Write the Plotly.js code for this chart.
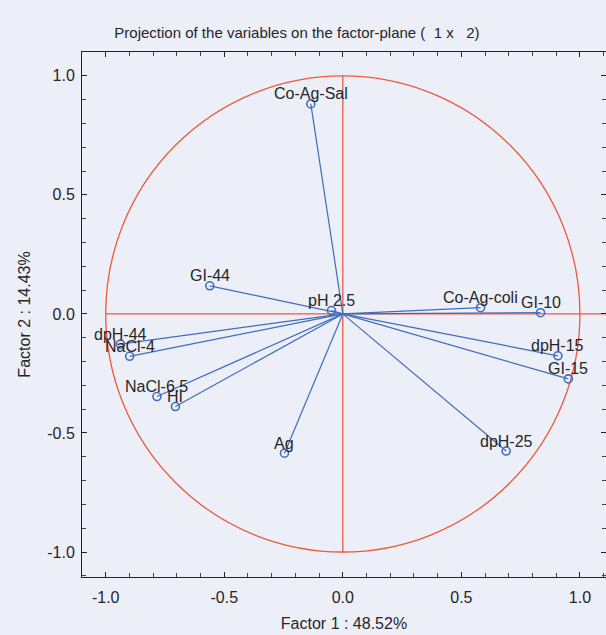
<!DOCTYPE html>
<html>
<head>
<meta charset="utf-8">
<script src="https://cdn.plot.ly/plotly-3.0.1.min.js"></script>
<style>html,body{margin:0;padding:0;background:#eceef8;}#chart{width:606px;height:635px;}</style>
</head>
<body>
<div id="chart"></div>
<script>
const variables = ["Co-Ag-Sal","GI-44","pH 2.5","dpH-44","NaCl-4","NaCl-6.5","HI","Ag","Co-Ag-coli","GI-10","dpH-15","GI-15","dpH-25"];
const factor1 = [-0.135,-0.561,-0.048,-0.938,-0.899,-0.784,-0.706,-0.246,0.581,0.834,0.907,0.951,0.689];
const factor2 = [0.882,0.118,0.014,-0.127,-0.178,-0.347,-0.389,-0.585,0.026,0.005,-0.176,-0.273,-0.576];
const tickVals = [-1.0,-0.5,0.0,0.5,1.0];
const tickLabels = ["-1.0","-0.5","0.0","0.5","1.0"];

const lx = [], ly = [];
for (let i = 0; i < variables.length; i++) {
  lx.push(0, factor1[i], null);
  ly.push(0, factor2[i], null);
}
const font = {family: "Liberation Sans, Arial, sans-serif", size: 16, color: "#262626"};
const red = "#ee5a3c";
const blue = "#3f6dbc";

const traces = [
  {x: lx, y: ly, mode: "lines", line: {color: blue, width: 1.2}, hoverinfo: "skip", showlegend: false},
  {x: factor1, y: factor2, mode: "markers",
   marker: {symbol: "circle-open", size: 8, color: blue, line: {width: 1.6, color: blue}},
   showlegend: false}
];

const annotations = variables.map((v, i) => ({
  x: factor1[i], y: factor2[i], xref: "x", yref: "y", text: v, showarrow: false,
  xanchor: "center", yanchor: "middle", yshift: 10, font: font
}));

const axisCommon = {
  showgrid: false, zeroline: false, showline: true, linecolor: "#222", linewidth: 1,
  mirror: "ticks", ticks: "inside", ticklen: 5, tickcolor: "#222",
  tickvals: tickVals, ticktext: tickLabels, tickfont: font,
  minor: {dtick: 0.1, ticks: "inside", ticklen: 4, tickcolor: "#444", showgrid: false}
};

const layout = {
  width: 606, height: 635,
  margin: {l: 82, r: 0, t: 52, b: 58},
  paper_bgcolor: "#eceef8", plot_bgcolor: "#eceef8",
  title: {text: "Projection of the variables on the factor-plane (  1 x   2)",
    font: Object.assign({}, font, {size: 15}), x: 0.49, xanchor: "center", y: 0.948, yanchor: "middle"},
  xaxis: Object.assign({}, axisCommon, {range: [-1.10, 1.11], ticklabelstandoff: 6,
    title: {text: "Factor 1 : 48.52%", font: font, standoff: 12}}),
  yaxis: Object.assign({}, axisCommon, {range: [-1.105, 1.10], ticklabelstandoff: 3,
    title: {text: "Factor 2 : 14.43%", font: font, standoff: 12}}),
  annotations: annotations,
  shapes: [
    {type: "circle", xref: "x", yref: "y", x0: -1, x1: 1, y0: -1, y1: 1, line: {color: red, width: 1.3}, layer: "below"},
    {type: "line", xref: "x", yref: "y", x0: -1, x1: 1.11, y0: 0, y1: 0, line: {color: red, width: 1.3}, layer: "below"},
    {type: "line", xref: "x", yref: "y", x0: 0, x1: 0, y0: -1, y1: 1, line: {color: red, width: 1.3}, layer: "below"}
  ]
};
Plotly.newPlot("chart", traces, layout, {displayModeBar: false, staticPlot: true});
</script>
</body>
</html>
